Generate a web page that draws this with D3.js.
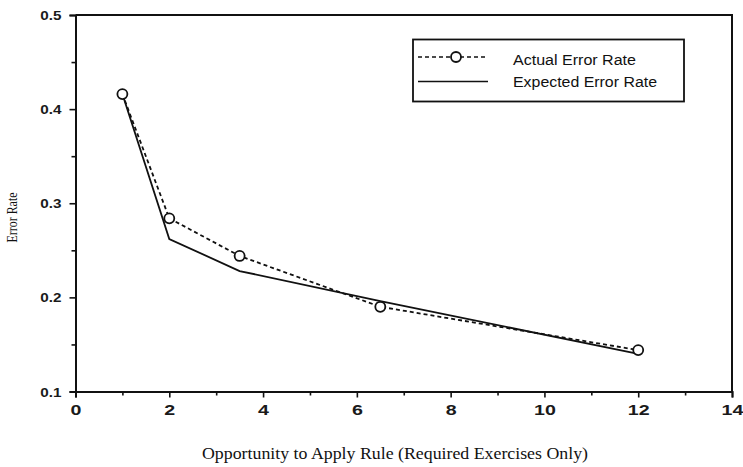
<!DOCTYPE html>
<html>
<head>
<meta charset="utf-8">
<script src="https://cdn.jsdelivr.net/npm/d3@7"></script>
<style>
  html, body { margin: 0; padding: 0; background: #fff; }
  svg { display: block; }
  .tick text { font-family: "Liberation Sans", Arial, sans-serif; font-weight: bold; fill: #1a1a1a; }
  .x-axis .tick text { font-size: 14px; }
  .y-axis .tick text { font-size: 12.5px; }
  .title { font-family: "Liberation Serif", "Times New Roman", serif; fill: #111; }
  .legend text { font-family: "Liberation Sans", Arial, sans-serif; font-size: 14px; fill: #111; }
</style>
</head>
<body>
<svg id="chart" width="743" height="467"></svg>
<script>
// Opportunity number for each measurement
const opportunities = [1, 2, 3.5, 6.5, 12];
// Observed error rate at each opportunity
const actualErrorRate = [0.416, 0.284, 0.244, 0.190, 0.144];
// Error rate predicted by the model
const expectedErrorRate = [0.416, 0.262, 0.228, 0.196, 0.140];

const xTickValues = [0, 2, 4, 6, 8, 10, 12, 14];
const xMinorTicks = [1, 3, 5, 7, 9, 11, 13];
const yTickValues = [0.1, 0.2, 0.3, 0.4, 0.5];
const yMinorTicks = [0.15, 0.25, 0.35, 0.45];

const legendLabels = ["Actual Error Rate", "Expected Error Rate"];
const xTitle = "Opportunity to Apply Rule (Required Exercises Only)";
const yTitle = "Error Rate";

const margin = { left: 75.5, right: 11, top: 15, bottom: 75.5 };
const W = 743, H = 467;
const svg = d3.select("#chart");

const x = d3.scaleLinear().domain([0, 14]).range([margin.left, W - margin.right]);
const y = d3.scaleLinear().domain([0.1, 0.5]).range([H - margin.bottom, margin.top]);

const ink = "#111";

// Widen a text element horizontally by a factor (the typeface runs wide)
function widen(sel, k) {
  sel.each(function () {
    const w = this.getComputedTextLength();
    d3.select(this).attr("textLength", w * k).attr("lengthAdjust", "spacingAndGlyphs");
  });
}

// Axes
svg.append("g").attr("class", "x-axis")
  .attr("transform", `translate(0,${y(0.1)})`)
  .call(d3.axisBottom(x).tickValues(xTickValues).tickFormat(d3.format("d")).tickSizeOuter(0).tickSize(6).tickPadding(8))
  .call(g => g.selectAll(".tick text").call(widen, 1.4));
svg.append("g")
  .attr("transform", `translate(0,${y(0.1)})`)
  .call(d3.axisBottom(x).tickValues(xMinorTicks).tickFormat("").tickSizeOuter(0).tickSize(4))
  .call(g => g.select(".domain").remove());

svg.append("g").attr("class", "y-axis")
  .attr("transform", `translate(${x(0)},0)`)
  .call(d3.axisLeft(y).tickValues(yTickValues).tickFormat(d3.format(".1f")).tickSizeOuter(0).tickSize(6).tickPadding(8))
  .call(g => g.selectAll(".tick text").attr("dy", "0.36em").call(widen, 1.22));
svg.append("g")
  .attr("transform", `translate(${x(0)},0)`)
  .call(d3.axisLeft(y).tickValues(yMinorTicks).tickFormat("").tickSizeOuter(0).tickSize(4))
  .call(g => g.select(".domain").remove());

svg.selectAll(".domain").attr("stroke", ink).attr("stroke-width", 2);
svg.selectAll(".tick line").attr("stroke", ink).attr("stroke-width", 1.6);

// Frame: top and right edges
svg.append("path")
  .attr("d", `M${x(0)},${y(0.5)}H${x(14)}V${y(0.1)}`)
  .attr("fill", "none").attr("stroke", ink).attr("stroke-width", 2);

// Axis titles
svg.append("text").attr("class", "title")
  .attr("x", 395).attr("y", 459)
  .attr("text-anchor", "middle")
  .style("font-size", "16.6px")
  .attr("textLength", 386).attr("lengthAdjust", "spacingAndGlyphs")
  .text(xTitle);
svg.append("text").attr("class", "title")
  .attr("transform", `translate(17,217.5) rotate(-90)`)
  .attr("text-anchor", "middle")
  .style("font-size", "15px")
  .attr("textLength", 50).attr("lengthAdjust", "spacingAndGlyphs")
  .text(yTitle);

// Series
const line = d3.line().x(d => x(d[0])).y(d => y(d[1]));
const expected = opportunities.map((o, i) => [o, expectedErrorRate[i]]);
const actual = opportunities.map((o, i) => [o, actualErrorRate[i]]);

svg.append("path").datum(expected)
  .attr("d", line).attr("fill", "none")
  .attr("stroke", ink).attr("stroke-width", 1.8);

svg.append("path").datum(actual)
  .attr("d", line).attr("fill", "none")
  .attr("stroke", ink).attr("stroke-width", 1.8)
  .attr("stroke-dasharray", "4,3");

svg.selectAll("circle.pt").data(actual).join("circle")
  .attr("class", "pt")
  .attr("cx", d => x(d[0])).attr("cy", d => y(d[1]))
  .attr("r", 5).attr("fill", "#fff")
  .attr("stroke", ink).attr("stroke-width", 1.8);

// Legend
const lg = svg.append("g").attr("class", "legend");
lg.append("rect")
  .attr("x", 413).attr("y", 39.5).attr("width", 271).attr("height", 62)
  .attr("fill", "#fff").attr("stroke", ink).attr("stroke-width", 1.8);
lg.append("line")
  .attr("x1", 418).attr("x2", 488).attr("y1", 57).attr("y2", 57)
  .attr("stroke", ink).attr("stroke-width", 1.6).attr("stroke-dasharray", "4,3");
lg.append("circle")
  .attr("cx", 456).attr("cy", 57).attr("r", 5)
  .attr("fill", "#fff").attr("stroke", ink).attr("stroke-width", 1.8);
lg.append("line")
  .attr("x1", 418).attr("x2", 488).attr("y1", 81.5).attr("y2", 81.5)
  .attr("stroke", ink).attr("stroke-width", 1.6);
const legendWidths = [123, 144];
lg.selectAll("text").data(legendLabels).join("text")
  .attr("x", 513).attr("y", (d, i) => 64.5 + i * 22)
  .attr("textLength", (d, i) => legendWidths[i]).attr("lengthAdjust", "spacingAndGlyphs")
  .text(d => d);
</script>
</body>
</html>
